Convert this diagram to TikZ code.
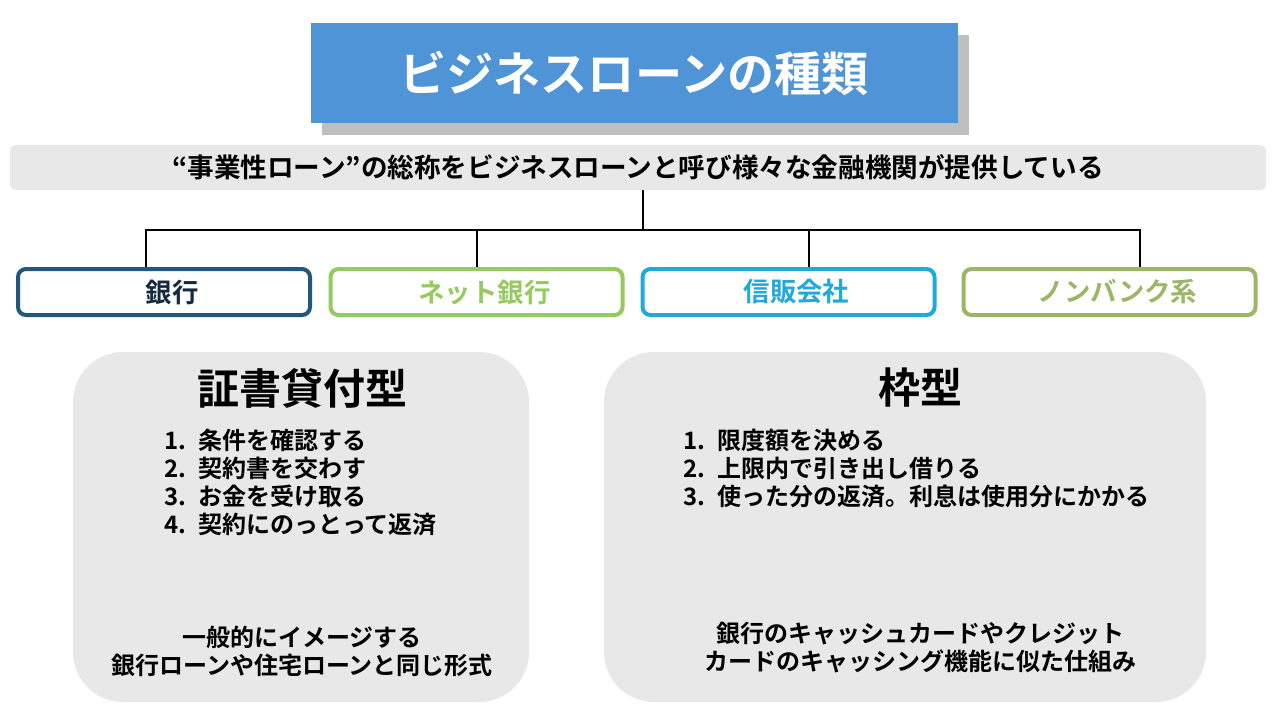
\documentclass[tikz,border=0pt]{standalone}
\usepackage{fontspec}
\setmainfont{Noto Sans CJK JP}[BoldFont={Noto Sans CJK JP Bold}]
\usetikzlibrary{positioning,shadows}

\definecolor{titleblue}{HTML}{4E94D6}
\definecolor{panelgray}{HTML}{E8E8E8}
\definecolor{bankblue}{HTML}{22577A}
\definecolor{banktext}{HTML}{152A3E}
\definecolor{netgreen}{HTML}{96C95E}
\definecolor{shinpan}{HTML}{22A9DC}
\definecolor{nonbank}{HTML}{9CB667}

\tikzset{
  kind/.style={draw, line width=2pt, rounded corners=4pt, fill=white,
    minimum width=146pt, minimum height=23pt, inner sep=0pt,
    font=\fontsize{13.2pt}{15pt}\selectfont\bfseries},
  panel/.style={fill=panelgray, rounded corners=25pt, minimum height=175pt, inner sep=0pt},
  steps/.style={align=left, anchor=west, font=\fontsize{12pt}{14pt}\selectfont\bfseries},
  note/.style={align=center, font=\fontsize{12pt}{14pt}\selectfont\bfseries}
}
\newcommand{\num}[1]{\makebox[1.45em][l]{#1}}

\begin{document}
\begin{tikzpicture}[x=0.5pt, y=-0.5pt]
     \useasboundingbox [fill=white] (0,0) rectangle (1280,720);
     % title
     \node (title) at (634,73) [fill=titleblue, minimum width=323.5pt, minimum height=50pt,
       drop shadow={shadow xshift=5.5pt, shadow yshift=-6pt, fill=black!25, opacity=1},
       text=white, font=\fontsize{23.6pt}{28pt}\selectfont\bfseries] {ビジネスローンの種類};
     \node (desc) at (638,167.5) [fill=panelgray, rounded corners=3pt, minimum width=628pt,
       minimum height=22.5pt, inner sep=0pt, font=\fontsize{13.3pt}{15pt}\selectfont\bfseries]
       {“事業性ローン”の総称をビジネスローンと呼び様々な金融機関が提供している};
     % lenders
     \node (bank) at (164,292) [kind, draw=bankblue, text=banktext] {\hspace*{8pt}銀行};
     \node (netbank) at (476.5,292) [kind, draw=netgreen, text=netgreen] {\hspace*{8pt}ネット銀行};
     \node (credit) at (788.5,292) [kind, draw=shinpan, text=shinpan] {\hspace*{8pt}信販会社};
     \node (nonbk) at (1109.5,292) [kind, draw=nonbank, text=nonbank] {\hspace*{8pt}ノンバンク系};
     \coordinate (hub) at (643,230);
     \coordinate (t1) at (146,230);
     \coordinate (t2) at (477,230);
     \coordinate (t3) at (809,230);
     \coordinate (t4) at (1140,230);
     \draw [line width=1pt] (desc.south -| hub) -- (hub);
     \draw [line width=1pt] (t1 |- bank.north) -- (t1) -- (t4) -- (t4 |- nonbk.north);
     \draw [line width=1pt] (t2) -- (t2 |- netbank.north);
     \draw [line width=1pt] (t3) -- (t3 |- credit.north);
     % loan types
     \node (deed) at (301,527) [panel, minimum width=228pt] {};
     \node (line) at (905,527) [panel, minimum width=301pt] {};
     \node (deedtitle) at (302,388) [font=\fontsize{21pt}{25pt}\selectfont\bfseries] {証書貸付型};
     \node (linetitle) at (920,388) [font=\fontsize{21pt}{25pt}\selectfont\bfseries] {枠型};
     \node (deedsteps) at (157,482) [steps] {\num{1.}条件を確認する\\ \num{2.}契約書を交わす\\
       \num{3.}お金を受け取る\\ \num{4.}契約にのっとって返済};
     \node (linesteps) at (676,468) [steps] {\num{1.}限度額を決める\\ \num{2.}上限内で引き出し借りる\\
       \num{3.}使った分の返済。利息は使用分にかかる};
     \node (deednote) at (302,651) [note] {一般的にイメージする\\銀行ローンや住宅ローンと同じ形式};
     \node (linenote) at (920,648) [note] {銀行のキャッシュカードやクレジット\\カードのキャッシング機能に似た仕組み};
   \end{tikzpicture}
\end{document}
